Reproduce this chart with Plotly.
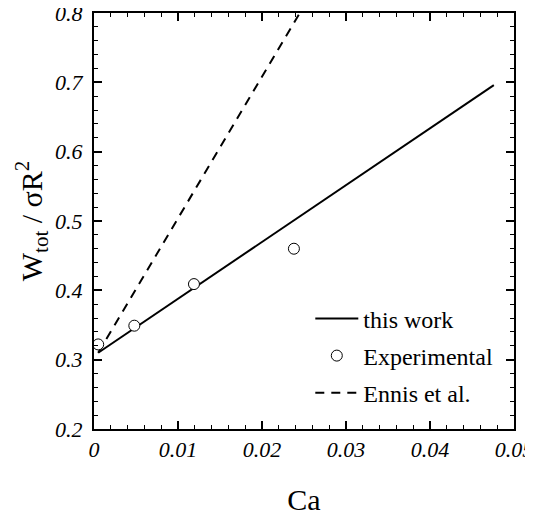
import plotly.graph_objects as go

# Data
this_work_x = [0.0005, 0.0476]
this_work_y = [0.310, 0.696]

exp_x = [0.0005, 0.0048, 0.0119, 0.0238]
exp_y = [0.322, 0.349, 0.409, 0.460]

ennis_x = [0.0005, 0.0245]
ennis_y = [0.310, 0.800]

x_ticks = [0, 0.01, 0.02, 0.03, 0.04, 0.05]
x_ticklabels = ["0", "0.01", "0.02", "0.03", "0.04", "0.05"]
y_ticks = [0.2, 0.3, 0.4, 0.5, 0.6, 0.7, 0.8]
y_ticklabels = ["0.2", "0.3", "0.4", "0.5", "0.6", "0.7", "0.8"]

FONT = "Liberation Serif"

fig = go.Figure()
fig.add_trace(go.Scatter(x=this_work_x, y=this_work_y, mode="lines", name="this work",
                         line=dict(color="black", width=2), legendgroup="a", legendrank=1))
fig.add_trace(go.Scatter(x=ennis_x, y=ennis_y, mode="lines", name="Ennis et al.",
                         line=dict(color="black", width=2, dash="9px,7px"), legendgroup="c",
                         legendrank=3))
fig.add_trace(go.Scatter(x=exp_x, y=exp_y, mode="markers", name="Experimental",
                         marker=dict(symbol="circle", size=11, color="white",
                                     line=dict(color="black", width=1)),
                         legendgroup="b", legendrank=2))

axis_common = dict(
    showgrid=False, zeroline=False, showline=True, linecolor="black", linewidth=2,
    mirror="allticks", ticks="inside", ticklen=8, tickwidth=1.5, tickcolor="black",
    tickfont=dict(family=FONT, size=22, color="black", style="italic"),
    automargin=False, ticklabeloverflow="allow",
)

fig.update_xaxes(range=[0, 0.05], tickvals=x_ticks, ticktext=x_ticklabels,
                 minor=dict(dtick=0.002, ticks="inside", ticklen=4, tickwidth=1, tickcolor="black"),
                 title=dict(text="Ca", font=dict(family=FONT, size=30, color="black"), standoff=34),
                 **axis_common)
fig.update_yaxes(range=[0.2, 0.8], tickvals=y_ticks, ticktext=y_ticklabels,
                 ticklabelstandoff=5,
                 minor=dict(dtick=0.02, ticks="inside", ticklen=4, tickwidth=1, tickcolor="black"),
                 title=dict(text="W<sub>tot</sub> / σR<sup>2</sup>",
                            font=dict(family=FONT, size=30, color="black"), standoff=4),
                 **axis_common)

# The page body adds an 8px offset, so the figure is 8px smaller than the window
fig.update_layout(
    width=525, height=508,
    margin=dict(l=86, r=19, t=5, b=87),
    plot_bgcolor="white", paper_bgcolor="white",
    font=dict(family=FONT, color="black"),
    legend=dict(x=0.515, y=0.319, xanchor="left", yanchor="top",
                font=dict(family=FONT, size=24, color="black"),
                bgcolor="rgba(0,0,0,0)", tracegroupgap=3, traceorder="grouped",
                itemwidth=43),
)

fig.write_html("out.html")
